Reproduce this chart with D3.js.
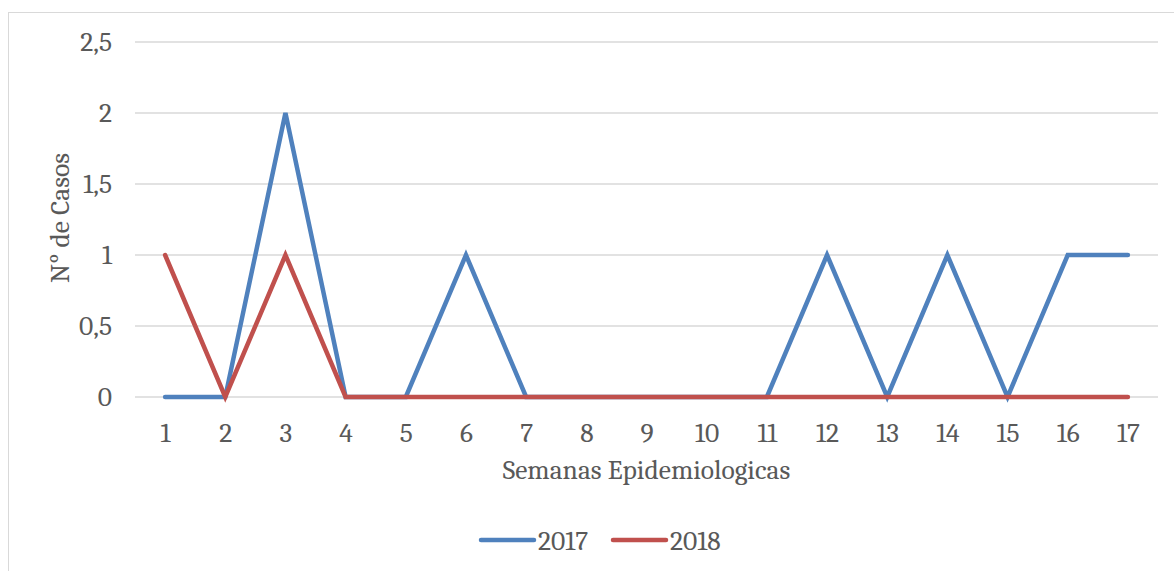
<!DOCTYPE html>
<html>
<head>
<meta charset="utf-8">
<script src="https://cdn.jsdelivr.net/npm/d3@7"></script>
<style>
  body { margin: 0; background: #fff; }
  text { font-family: Cambria, "Liberation Serif", "DejaVu Serif", serif; fill: #595959; }
</style>
</head>
<body>
<div id="chart"></div>
<script>
// weeks on the x axis
const weeks = [1, 2, 3, 4, 5, 6, 7, 8, 9, 10, 11, 12, 13, 14, 15, 16, 17];
// cases per week
const cases2017 = [0, 0, 2, 0, 0, 1, 0, 0, 0, 0, 0, 1, 0, 1, 0, 1, 1];
const cases2018 = [1, 0, 1, 0, 0, 0, 0, 0, 0, 0, 0, 0, 0, 0, 0, 0, 0];
const yTicks = [0, 0.5, 1, 1.5, 2, 2.5];
const seriesNames = ['2017', '2018'];

const W = 1174, H = 571;
const margin = { top: 42, right: 16, bottom: 174, left: 135 };
const width = W - margin.left - margin.right;
const height = H - margin.top - margin.bottom;
const fontSize = '27.5px';

const colors = { '2017': '#4F81BD', '2018': '#C0504D' };
const series = [
  { name: '2017', values: cases2017 },
  { name: '2018', values: cases2018 }
];

const svg = d3.select('#chart')
  .append('svg')
  .attr('width', W)
  .attr('height', H);

// outer chart border
svg.append('rect')
  .attr('x', 8.5).attr('y', 12.5)
  .attr('width', W + 10).attr('height', H)
  .attr('fill', 'none')
  .attr('stroke', '#D9D9D9')
  .attr('stroke-width', 1);

const g = svg.append('g')
  .attr('transform', 'translate(' + margin.left + ',' + margin.top + ')');

const x = d3.scalePoint().domain(weeks).range([0, width]).padding(0.5);
const y = d3.scaleLinear().domain([0, 2.5]).range([height, 0]);

const fmt = d => String(d).replace('.', ',');

// gridlines
g.selectAll('.grid')
  .data(yTicks)
  .enter()
  .append('line')
  .attr('x1', 0).attr('x2', width)
  .attr('y1', d => y(d)).attr('y2', d => y(d))
  .attr('stroke', '#D9D9D9')
  .attr('stroke-width', 1.3);

// y axis labels
const yAxis = d3.axisLeft(y).tickValues(yTicks).tickFormat(fmt).tickSize(0).tickPadding(23);
g.append('g').call(yAxis)
  .call(s => s.select('.domain').remove())
  .selectAll('text')
  .style('font-size', fontSize)
  .style('font-family', null)
  .attr('fill', '#595959');

// x axis labels
const xAxis = d3.axisBottom(x).tickSize(0).tickPadding(0);
g.append('g')
  .attr('transform', 'translate(0,' + height + ')')
  .call(xAxis)
  .call(s => s.select('.domain').remove())
  .selectAll('text')
  .attr('y', 45)
  .attr('dy', 0)
  .style('font-size', fontSize)
  .attr('fill', '#595959');

svg.selectAll('.tick text').attr('font-family', null);

// lines
const line = d3.line()
  .x((d, i) => x(weeks[i]))
  .y(d => y(d));

g.selectAll('.series')
  .data(series)
  .enter()
  .append('path')
  .attr('d', d => line(d.values))
  .attr('fill', 'none')
  .attr('stroke', d => colors[d.name])
  .attr('stroke-width', 4.5)
  .attr('stroke-linejoin', 'miter')
  .attr('stroke-linecap', 'round');

// axis titles
svg.append('text')
  .attr('x', margin.left + width / 2)
  .attr('y', 479)
  .attr('text-anchor', 'middle')
  .style('font-size', fontSize)
  .text('Semanas Epidemiologicas');

svg.append('text')
  .attr('transform', 'translate(69,218) rotate(-90)')
  .attr('text-anchor', 'middle')
  .style('font-size', fontSize)
  .text('N° de Casos');

// legend
const legend = svg.selectAll('.legend')
  .data(seriesNames)
  .enter()
  .append('g')
  .attr('transform', (d, i) => 'translate(' + (481 + i * 132) + ',540)');

legend.append('line')
  .attr('x1', 0).attr('x2', 53)
  .attr('y1', 0).attr('y2', 0)
  .attr('stroke', d => colors[d])
  .attr('stroke-width', 4.5)
  .attr('stroke-linecap', 'round');

legend.append('text')
  .attr('x', 57)
  .attr('y', 10)
  .style('font-size', fontSize)
  .text(d => d);
</script>
</body>
</html>
